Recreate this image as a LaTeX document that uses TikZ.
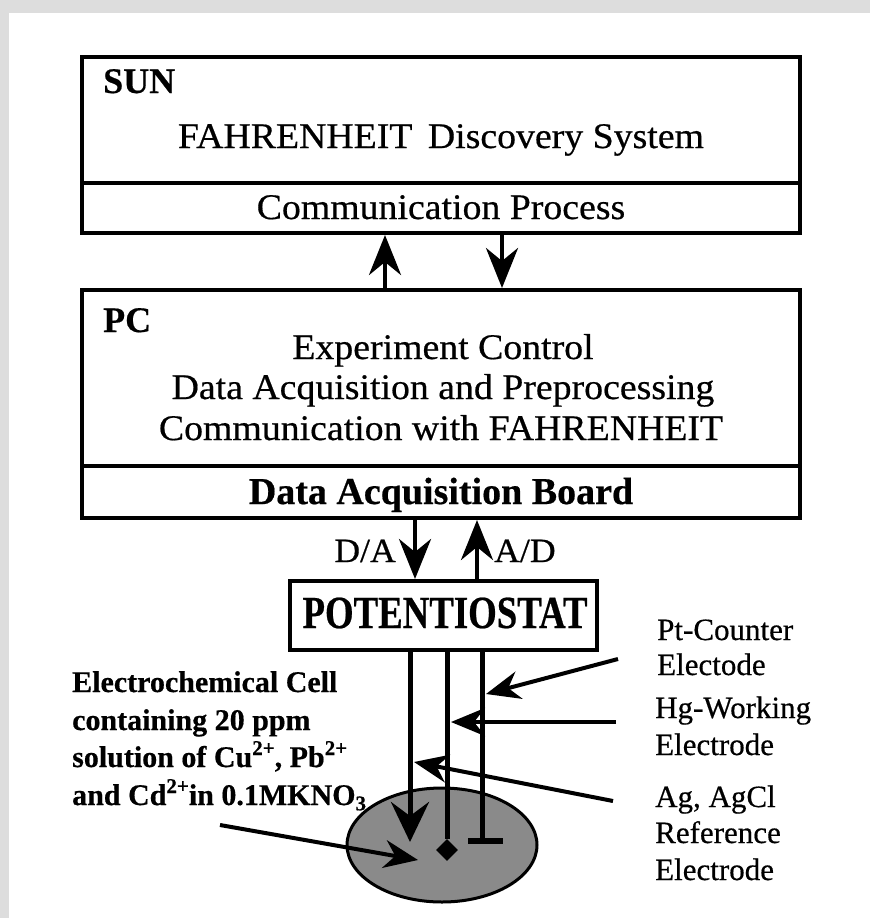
\documentclass[tikz,border=0pt]{standalone}
\usepackage{fontspec}
\setmainfont[FakeBold=0.5]{Liberation Serif}
\newfontfamily\wideserif[FakeStretch=1.05,FakeBold=0.5]{Liberation Serif}
\newfontfamily\narrowserif[FakeStretch=0.8,FakeBold=0.5]{Liberation Serif}
\usetikzlibrary{arrows.meta,shapes.geometric}
\definecolor{framegray}{HTML}{DDDDDD}
\definecolor{cellgray}{HTML}{8A8A8A}
\newcommand\ionsup[1]{\raisebox{12pt}{\fontsize{21}{21}\selectfont #1}}

\tikzset{
  box/.style={draw, line width=4pt, inner sep=0pt},
  maintext/.style={anchor=base, inner sep=0pt, font=\fontsize{36}{40}\selectfont\wideserif},
  boldtext/.style={anchor=base, inner sep=0pt, font=\fontsize{38}{40}\selectfont\bfseries},
  corner/.style={anchor=base west, inner sep=0pt, font=\fontsize{36}{40}\selectfont\bfseries},
  iolabel/.style={inner sep=0pt, font=\fontsize{34}{38}\selectfont\wideserif},
  electrode/.style={anchor=base west, inner sep=0pt, font=\fontsize{31}{34}\selectfont},
  cellnote/.style={anchor=base west, inner sep=0pt, font=\fontsize{30}{34}\selectfont\bfseries},
  flow/.style={line width=4.5pt, -{Stealth[length=40pt,width=32pt,inset=13pt]}},
  wire/.style={line width=5pt},
  pointer/.style={line width=4pt, -{Stealth[length=34pt,width=28pt,inset=11pt]}},
}

\begin{document}
\begin{tikzpicture}[x=1pt,y=-1pt]
\useasboundingbox (0,0) rectangle (870,918);
\fill[white] (0,0) rectangle (870,918);
\fill[framegray] (0,0) rectangle (870,13);
\fill[framegray] (0,0) rectangle (9,918);

% SUN workstation
\node[box, minimum width=718pt, minimum height=126pt] (sun) at (441,120) {};
\node[box, minimum width=718pt, minimum height=50pt] (sunsub) at (441,208) {};
\node[corner] (sunlbl) at (103,93) {SUN};
\node[maintext] (fahr) at (441,148) {FAHRENHEIT\, Discovery System};
\node[maintext] (comm) at (441,219) {Communication Process};

% PC
\node[box, minimum width=718pt, minimum height=176pt] (pc) at (441,378) {};
\node[box, minimum width=718pt, minimum height=52pt] (pcsub) at (441,492) {};
\node[corner] (pclbl) at (103,332) {PC};
\node[maintext] (exp) at (443,359) {Experiment Control};
\node[maintext] (daq) at (443,399) {Data Acquisition and Preprocessing};
\node[maintext] (cwf) at (441,440) {Communication with FAHRENHEIT};
\node[boldtext] (dab) at (441,504) {Data Acquisition Board};

% links between SUN and PC
\coordinate (upx) at (385,0);
\coordinate (downx) at (502,0);
\draw[flow] (upx |- pc.north) -- (upx |- sunsub.south);
\draw[flow] (downx |- sunsub.south) -- (downx |- pc.north);

% potentiostat
\node[box, minimum width=307pt, minimum height=69pt] (pot) at (443.5,615.5) {};
\node[anchor=base, inner sep=0pt, font=\fontsize{46}{48}\selectfont\narrowserif\bfseries] (potlbl) at (445,628) {POTENTIOSTAT};

\coordinate (dax) at (415,0);
\coordinate (adx) at (477,0);
\draw[flow] (dax |- pcsub.south) -- (dax |- pot.north);
\draw[flow] (adx |- pot.north) -- (adx |- pcsub.south);
\node[iolabel, anchor=base east] (dalbl) at (396,562) {D/A};
\node[iolabel, anchor=base west] (adlbl) at (494,562) {A/D};

% electrochemical cell
\node[ellipse, draw, line width=3pt, fill=cellgray, minimum width=190pt, minimum height=114pt] (cell) at (442,845) {};

% electrodes
\coordinate (agx) at (410,0);
\coordinate (hgx) at (447,0);
\coordinate (ptx) at (482,0);
\coordinate (agend) at (410,842);
\coordinate (ptend) at (482,841);
\coordinate (ptbarl) at (468,841);
\coordinate (ptbarr) at (503,841);
\node[diamond, fill, inner sep=0pt, minimum size=22pt] (hgdrop) at (447,850) {};
\draw[wire, -{Stealth[length=40pt,width=38pt,inset=14pt]}] (agx |- pot.south) -- (agend);
\draw[wire] (hgx |- pot.south) -- (hgdrop.north);
\draw[wire] (ptx |- pot.south) -- (ptend);
\draw[line width=6pt] (ptbarl) -- (ptbarr);

% electrode labels
\node[electrode] (pt1) at (657,640) {Pt-Counter};
\node[electrode] (pt2) at (657,675) {Electode};
\node[electrode] (hg1) at (655,718) {Hg-Working};
\node[electrode] (hg2) at (655,755) {Electrode};
\node[electrode] (ag1) at (655,807) {Ag, AgCl};
\node[electrode] (ag2) at (655,843) {Reference};
\node[electrode] (ag3) at (655,880) {Electrode};

\coordinate (ptfrom) at (618,659);
\coordinate (ptto) at (486,694);
\coordinate (hgfrom) at (616,722);
\coordinate (hgto) at (451,722);
\coordinate (agfrom) at (613,801);
\coordinate (agto) at (414,762);
\draw[pointer] (ptfrom) -- (ptto);
\draw[pointer] (hgfrom) -- (hgto);
\draw[pointer] (agfrom) -- (agto);

% solution note
\node[cellnote] (note1) at (72,692) {Electrochemical Cell};
\node[cellnote] (note2) at (72,730) {containing 20 ppm};
\node[cellnote] (note3) at (72,767) {solution of Cu\ionsup{2+}, Pb\ionsup{2+}};
\node[cellnote] (note4) at (72,805) {and Cd\ionsup{2+}in 0.1MKNO\textsubscript{3}};
\coordinate (notefrom) at (220,825);
\coordinate (noteto) at (418,860);
\draw[pointer] (notefrom) -- (noteto);
\end{tikzpicture}
\end{document}
